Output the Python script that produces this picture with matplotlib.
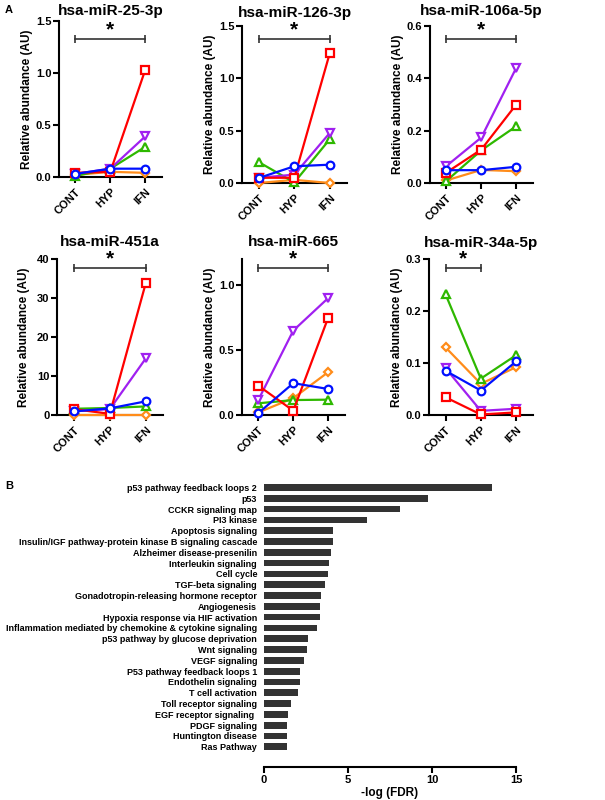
import matplotlib
matplotlib.use('Agg')
import matplotlib.pyplot as plt

plt.rcParams['font.family'] = ['Liberation Sans', 'DejaVu Sans']
plt.rcParams['font.weight'] = 'bold'
plt.rcParams['axes.labelweight'] = 'bold'

groups = ['CONT', 'HYP', 'IFN']
titles = ['hsa-miR-25-3p', 'hsa-miR-126-3p', 'hsa-miR-106a-5p',
          'hsa-miR-451a', 'hsa-miR-665', 'hsa-miR-34a-5p']

# one triple (CONT, HYP, IFN) per panel
orange = [[0.02, 0.05, 0.04], [0.0, 0.03, 0.0], [0.01, 0.05, 0.045],
          [0.1, 0.1, 0.1], [0.02, 0.13, 0.33], [0.13, 0.06, 0.092]]
green = [[0.01, 0.08, 0.29], [0.2, 0.005, 0.42], [0.008, 0.125, 0.217],
         [1.6, 1.8, 2.2], [0.09, 0.115, 0.118], [0.232, 0.07, 0.115]]
purple = [[0.03, 0.08, 0.39], [0.05, 0.08, 0.48], [0.065, 0.174, 0.44],
          [1.0, 1.5, 14.5], [0.117, 0.65, 0.9], [0.09, 0.008, 0.012]]
red = [[0.04, 0.05, 1.03], [0.05, 0.05, 1.245], [0.04, 0.128, 0.3],
       [1.5, 0.3, 33.8], [0.225, 0.033, 0.75], [0.034, 0.001, 0.005]]
blue = [[0.03, 0.08, 0.08], [0.048, 0.16, 0.175], [0.049, 0.049, 0.062],
        [0.9, 1.7, 3.5], [0.015, 0.245, 0.2], [0.085, 0.047, 0.103]]

pathways = ['p53 pathway feedback loops 2', 'p53', 'CCKR signaling map', 'PI3 kinase',
            'Apoptosis signaling', 'Insulin/IGF pathway-protein kinase B signaling cascade',
            'Alzheimer disease-presenilin', 'Interleukin signaling', 'Cell cycle',
            'TGF-beta signaling', 'Gonadotropin-releasing hormone receptor', 'Angiogenesis',
            'Hypoxia response via HIF activation',
            'Inflammation mediated by chemokine & cytokine signaling',
            'p53 pathway by glucose deprivation', 'Wnt signaling', 'VEGF signaling',
            'P53 pathway feedback loops 1', 'Endothelin signaling', 'T cell activation',
            'Toll receptor signaling', 'EGF receptor signaling ', 'PDGF signaling',
            'Huntington disease', 'Ras Pathway']
neglog_fdr = [13.55, 9.77, 8.1, 6.15, 4.12, 4.1, 4.0, 3.85, 3.8, 3.63, 3.37, 3.33,
              3.33, 3.14, 2.62, 2.58, 2.38, 2.16, 2.12, 2.04, 1.61, 1.43, 1.39, 1.37, 1.35]

# layout (pixels: left, top, right, bottom)
boxes = [(59, 21, 162, 177), (242, 26, 347, 183), (430, 26, 533, 183),
         (57, 259, 163, 415), (242, 259, 345, 415), (429, 259, 533, 415)]
ytops = [1.5, 1.5, 0.6, 40, 1.2, 0.3]
yticks = [[0, 0.5, 1.0, 1.5], [0, 0.5, 1.0, 1.5], [0, 0.2, 0.4, 0.6],
          [0, 10, 20, 30, 40], [0, 0.5, 1.0], [0, 0.1, 0.2, 0.3]]
fmts = ['%.1f', '%.1f', '%.1f', '%d', '%.1f', '%.1f']
brackets = [(0, 2, 1.33), (0, 2, 1.375), (0, 2, 0.551),
            (0, 2, 37.7), (0, 2, 1.13), (0, 1, 0.283)]
title_y = [15.5, 16.5, 15.5, 245.5, 246, 246.5]

series = [(orange, '#ff8c1a', 'D', 3.6),
          (green, '#2eb800', '^', 5.5),
          (purple, '#a020f0', 'v', 5.5),
          (red, '#ff0000', 's', 5.3),
          (blue, '#0010ff', 'o', 5.5)]

W, H = 605, 800
fig = plt.figure(figsize=(W / 100, H / 100), dpi=100)


def px_axes(l, t, r, b):
    return fig.add_axes([l / W, 1 - b / H, (r - l) / W, (b - t) / H])


for i in range(6):
    l, t, r, b = boxes[i]
    ax = px_axes(l, t, r, b)
    for k, (vals, col, mk, ms) in enumerate(series):
        ax.plot(range(3), vals[i], color=col, lw=1.6, marker=mk, ms=ms,
                mfc='white', mec=col, mew=1.6, clip_on=False, zorder=3 + k)
    ax.set_xlim(-0.47, 2.48)
    ax.set_ylim(0, ytops[i])
    ax.set_yticks(yticks[i])
    ax.set_yticklabels([fmts[i] % v for v in yticks[i]])
    ax.set_xticks(range(3))
    ax.set_xticklabels(groups, rotation=45, ha='right', va='top', rotation_mode='anchor')
    for s in ['top', 'right']:
        ax.spines[s].set_visible(False)
    for s in ['left', 'bottom']:
        ax.spines[s].set_linewidth(1.5)
    ax.tick_params(width=1.5, length=4, labelsize=8, pad=1.5)
    ax.tick_params(axis='x', pad=3)
    ax.set_ylabel('Relative abundance (AU)', fontsize=8.5)
    ax.yaxis.set_label_coords(-0.25, 0.5)
    x0, x1, yb = brackets[i]
    ax.plot([x0, x1], [yb, yb], color='#333333', lw=1.2, marker='|', ms=6, mew=1.2,
            clip_on=False)
    ax.text((x0 + x1) / 2, yb + ytops[i] * 0.022, '*', ha='center', va='baseline',
            fontsize=15, clip_on=False)
    fig.text((l + r) / 2 / W, 1 - title_y[i] / H, titles[i], ha='center',
             va='baseline', fontsize=11)

fig.text(5 / W, 1 - 10 / H, 'A', fontsize=8, ha='left', va='center')
fig.text(5 / W, 1 - 486 / H, 'B', fontsize=8, ha='left', va='center')

# bar chart
bx = px_axes(264, 481, 516, 767)
ypos = list(range(len(pathways)))
bx.barh(ypos, neglog_fdr, height=0.62, color='#333333')
bx.set_ylim(len(pathways) - 1 + 1.87, -0.6)
bx.set_xlim(0, 15)
bx.set_xticks([0, 5, 10, 15])
bx.set_yticks(ypos)
bx.set_yticklabels(pathways, fontsize=6.5)
bx.tick_params(axis='y', length=0, pad=5)
bx.tick_params(axis='x', width=1.5, length=4, labelsize=8, pad=2)
for s in ['top', 'right', 'left']:
    bx.spines[s].set_visible(False)
bx.spines['bottom'].set_linewidth(1.5)
bx.set_xlabel('-log (FDR)', fontsize=8.5, labelpad=1)

fig.savefig('out.png', dpi=100)
